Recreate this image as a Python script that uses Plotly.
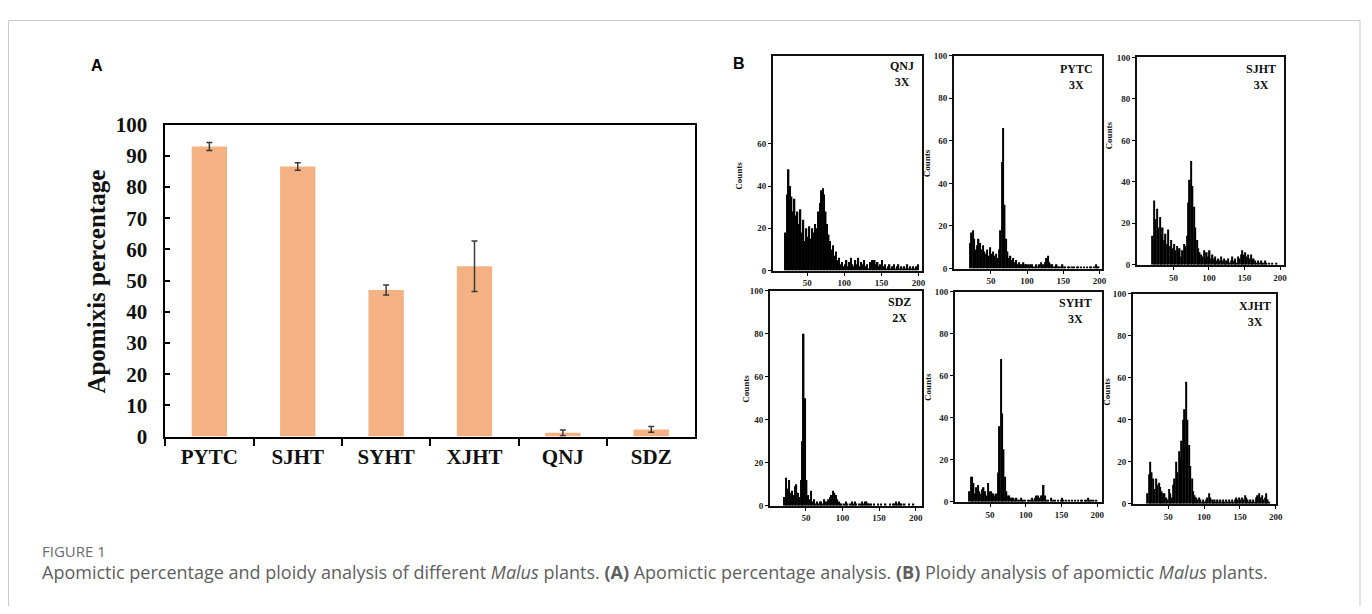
import plotly.graph_objects as go

# Page body adds an 8px margin; size the figure so that the page fits the 1372x614 window.
W, H = 1356, 598
OFF = 8

# ---------------- Panel A data ----------------
categories = ["PYTC", "SJHT", "SYHT", "XJHT", "QNJ", "SDZ"]
apomixis = [93.0, 86.6, 47.0, 54.6, 1.2, 2.3]
apomixis_err = [1.3, 1.2, 1.6, 8.1, 0.9, 0.9]

# ---------------- Panel B data (flow cytometry histograms, bin width 2, centres 21..199) ----------------
bin_start = 21
bin_width = 2
qnj_counts = [18, 36, 48, 40, 35, 28, 34, 26, 28, 22, 29, 18, 24, 14, 20, 16, 21, 15, 20, 18,
              22, 20, 28, 32, 38, 39, 36, 28, 22, 17, 14, 10, 12, 7, 9, 5, 6, 3, 4, 2,
              3, 5, 2, 4, 6, 3, 2, 5, 3, 6, 2, 4, 3, 5, 2, 3, 1, 4, 5, 2,
              5, 3, 4, 2, 3, 5, 2, 3, 1, 2, 3, 1, 2, 3, 1, 2, 3, 1, 2, 1,
              2, 1, 3, 1, 2, 1, 2, 1, 2, 3]
pytc_counts = [12, 17, 18, 14, 9, 11, 14, 12, 9, 11, 8, 7, 9, 6, 10, 7, 8, 6, 7, 5,
               9, 18, 50, 66, 30, 14, 8, 5, 6, 4, 5, 3, 4, 2, 3, 2, 2, 3, 2, 2,
               2, 1, 2, 2, 1, 1, 2, 1, 2, 3, 1, 2, 3, 5, 6, 3, 2, 2, 1, 1,
               2, 1, 1, 1, 2, 1, 1, 0, 1, 1, 0, 1, 1, 0, 1, 1, 0, 1, 0, 1,
               0, 1, 0, 1, 1, 0, 1, 2, 1, 1]
sjht_counts = [14, 31, 22, 27, 18, 23, 14, 18, 12, 15, 10, 17, 9, 12, 8, 10, 7, 9, 6, 8,
               4, 7, 10, 9, 14, 30, 41, 50, 38, 28, 18, 12, 8, 6, 5, 4, 7, 3, 6, 4,
               7, 3, 5, 3, 4, 2, 3, 2, 4, 2, 3, 1, 2, 3, 1, 2, 4, 2, 3, 1,
               4, 3, 5, 7, 5, 6, 4, 5, 3, 5, 2, 3, 2, 1, 2, 1, 2, 1, 1, 2,
               1, 0, 1, 0, 1, 0, 0, 1, 0, 0]
sdz_counts = [4, 13, 8, 12, 6, 7, 5, 9, 10, 6, 4, 12, 30, 80, 50, 12, 5, 3, 7, 2,
              3, 1, 2, 1, 2, 2, 1, 3, 2, 2, 3, 4, 5, 7, 6, 5, 3, 2, 1, 1,
              0, 1, 2, 1, 0, 1, 2, 1, 2, 1, 0, 1, 1, 2, 1, 2, 2, 1, 1, 1,
              0, 1, 0, 0, 1, 0, 1, 0, 0, 1, 0, 0, 1, 0, 1, 1, 2, 1, 2, 1,
              1, 0, 1, 0, 0, 1, 0, 0, 1, 0]
syht_counts = [5, 12, 12, 9, 4, 7, 8, 5, 4, 6, 7, 5, 3, 9, 5, 5, 4, 4, 3, 4,
               14, 36, 68, 42, 25, 12, 5, 3, 3, 2, 2, 2, 1, 2, 1, 1, 2, 1, 1, 1,
               0, 1, 1, 1, 2, 1, 2, 3, 3, 2, 3, 3, 8, 3, 1, 1, 0, 2, 0, 1,
               1, 0, 1, 0, 1, 2, 1, 0, 1, 0, 1, 0, 1, 0, 1, 0, 1, 0, 1, 1,
               0, 1, 1, 2, 1, 1, 0, 1, 0, 1]
xjht_counts = [5, 14, 20, 15, 12, 7, 12, 9, 10, 8, 6, 5, 5, 3, 2, 7, 5, 3, 9, 12,
               20, 15, 25, 22, 30, 40, 45, 58, 40, 28, 18, 12, 6, 4, 3, 2, 3, 2, 1, 2,
               1, 2, 3, 5, 3, 2, 1, 2, 1, 2, 1, 2, 1, 2, 1, 2, 1, 2, 1, 2,
               1, 2, 3, 2, 3, 2, 3, 2, 4, 3, 2, 1, 2, 1, 2, 1, 3, 4, 5, 3,
               4, 2, 3, 5, 2, 1, 0, 0, 0, 0]

hist_names = ["QNJ", "PYTC", "SJHT", "SDZ", "SYHT", "XJHT"]
hist_ploidy = ["3X", "3X", "3X", "2X", "3X", "3X"]
hist_counts = [qnj_counts, pytc_counts, sjht_counts, sdz_counts, syht_counts, xjht_counts]

# ---------------- helpers (window pixel -> paper) ----------------
def px_x(x):
    return (x - OFF) / W

def px_y(y):
    return 1 - (y - OFF) / H

SERIF = "Liberation Serif"
fig = go.Figure()

# ---------------- Panel A ----------------
fig.add_trace(go.Bar(
    x=categories, y=apomixis, width=0.4,
    marker=dict(color="#F4B183", line=dict(width=0)),
    error_y=dict(type="data", array=apomixis_err, visible=True,
                 color="#3a3a3a", thickness=1.5, width=3),
    xaxis="x", yaxis="y", showlegend=False,
))

fig.update_layout(
    xaxis=dict(domain=[px_x(166), px_x(699)], anchor="y", type="category",
               range=[-0.5, 5.5], tickson="boundaries", ticks="outside", ticklen=8,
               tickwidth=1.5, tickcolor="black", showline=True, linecolor="black",
               linewidth=1.5, mirror=True, showgrid=False, zeroline=False,
               tickfont=dict(family=SERIF, size=21, color="#111", weight="bold")),
    yaxis=dict(domain=[px_y(442), px_y(117)], anchor="x", range=[0, 100],
               dtick=10, ticks="inside", ticklen=5, tickwidth=1.5, tickcolor="black",
               showline=True, linecolor="black", linewidth=1.5, mirror=True,
               showgrid=False, zeroline=False, ticklabelstandoff=12,
               tickfont=dict(family=SERIF, size=21, color="#111", weight="bold")),
)

annotations = []
shapes = []
annotations.append(dict(text="Apomixis percentage", x=px_x(97), y=px_y(281),
                        xref="paper", yref="paper", showarrow=False, textangle=-90,
                        font=dict(family=SERIF, size=25, color="#111", weight="bold"),
                        xanchor="center", yanchor="middle"))
annotations.append(dict(text="A", x=px_x(97), y=px_y(55), xref="paper", yref="paper",
                        showarrow=False, xanchor="center", yanchor="middle",
                        font=dict(family="Liberation Sans", size=16, color="black",
                                  weight="bold")))
annotations.append(dict(text="B", x=px_x(743), y=px_y(53), xref="paper", yref="paper",
                        showarrow=False, xanchor="center", yanchor="middle",
                        font=dict(family="Liberation Sans", size=16, color="black",
                                  weight="bold")))

# ---------------- Panel B ----------------
# (left, right, top, bottom) px, x-range, y-range, y ticks, label centre (x, y), "Counts" centre (x, y)
panels = [
    ((777, 927, 45, 269), [4, 205], [0, 101.8], [0, 20, 40, 60], 907, 64, 743, 170),
    ((959, 1108, 45, 267), [-1, 204], [0, 100], [0, 20, 40, 60, 80, 100], 1082, 67, 932, 157),
    ((1143, 1291, 47, 263), [-1, 206], [0, 100], [0, 20, 40, 60, 80, 100], 1268, 67, 1115, 128),
    ((774, 927, 290, 514), [1, 209], [0, 100], [0, 20, 40, 60, 80, 100], 904, 310, 749, 392),
    ((960, 1108, 291, 510), [1, 207], [0, 100], [0, 20, 40, 60, 80, 100], 1081, 311, 932, 390),
    ((1139, 1283, 293, 512), [1, 201], [0, 100], [0, 20, 40, 60, 80, 100], 1261, 314, 1113, 395),
]

for i, (box, xr, yr, yt, lx, ly, cx, cy) in enumerate(panels):
    n = i + 2
    counts = hist_counts[i]
    xs = [bin_start + bin_width * k for k in range(len(counts))]
    fig.add_trace(go.Bar(x=xs, y=counts, width=bin_width,
                         marker=dict(color="black", line=dict(width=0)),
                         xaxis=f"x{n}", yaxis=f"y{n}", showlegend=False))
    l, r, t, b = box
    tf = dict(family=SERIF, size=9, color="#222", weight="bold")
    fig.layout[f"xaxis{n}"] = dict(domain=[px_x(l), px_x(r)], anchor=f"y{n}", range=xr,
                                   tickvals=[50, 100, 150, 200], ticks="outside", ticklen=3,
                                   tickcolor="black", showline=True, linecolor="#111",
                                   linewidth=2, mirror=True, showgrid=False, zeroline=False,
                                   tickfont=tf)
    fig.layout[f"yaxis{n}"] = dict(domain=[px_y(b), px_y(t)], anchor=f"x{n}", range=yr,
                                   tickvals=yt, ticks="outside", ticklen=3,
                                   tickcolor="black", showline=True, linecolor="#111",
                                   linewidth=2, mirror=True, showgrid=False, zeroline=False,
                                   tickfont=tf)
    annotations.append(dict(text=f"{hist_names[i]}<br>{hist_ploidy[i]}", x=px_x(lx),
                            y=px_y(ly), xref="paper", yref="paper", showarrow=False,
                            align="center", xanchor="center", yanchor="middle",
                            font=dict(family=SERIF, size=12, color="#111", weight="bold")))
    annotations.append(dict(text="Counts", x=px_x(cx), y=px_y(cy),
                            xref="paper", yref="paper", showarrow=False, textangle=-90,
                            xanchor="center", yanchor="middle",
                            font=dict(family=SERIF, size=9, color="#111", weight="bold")))

# ---------------- caption ----------------
annotations.append(dict(text="FIGURE 1", x=px_x(40), y=px_y(561), xref="paper", yref="paper",
                        showarrow=False, xanchor="left", yanchor="middle",
                        font=dict(family="Open Sans", size=15, color="#6b6b6b")))
annotations.append(dict(
    text="Apomictic percentage and ploidy analysis of different <i>Malus</i> plants. "
         "<b>(A)</b> Apomictic percentage analysis. <b>(B)</b> Ploidy analysis of apomictic "
         "<i>Malus</i> plants.",
    x=px_x(40), y=px_y(583), xref="paper", yref="paper", showarrow=False,
    xanchor="left", yanchor="middle",
    font=dict(family="Open Sans", size=18, color="#5e5e5e")))

shapes.append(dict(type="rect", xref="paper", yref="paper", x0=px_x(8.5), x1=px_x(1367),
                   y0=px_y(640), y1=px_y(8.5), line=dict(color="#c8c8c8", width=1),
                   fillcolor="rgba(0,0,0,0)"))

fig.update_layout(width=W, height=H, margin=dict(l=0, r=0, t=0, b=0),
                  paper_bgcolor="white", plot_bgcolor="white",
                  annotations=annotations, shapes=shapes, barmode="overlay")

fig.write_html("out.html")
